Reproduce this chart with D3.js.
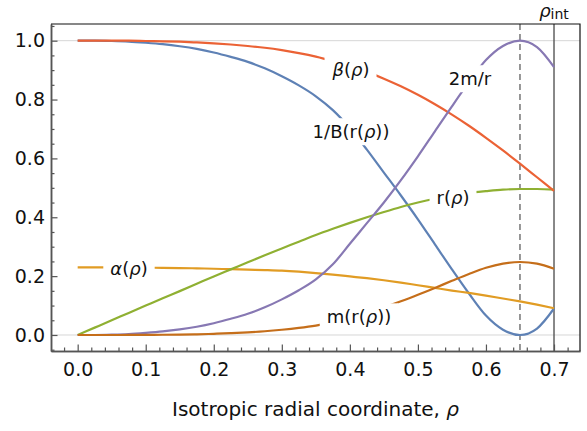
<!DOCTYPE html>
<html>
<head>
<meta charset="utf-8">
<script src="https://cdn.jsdelivr.net/npm/d3@7"></script>
<style>
  body { margin: 0; background: #fff; }
  text { font-family: "DejaVu Sans", sans-serif; }
</style>
</head>
<body>
<svg id="chart"></svg>
<script>
"use strict";

// isotropic radial coordinate samples
const rho = [0, 0.025, 0.05, 0.075, 0.1, 0.125, 0.15, 0.175, 0.2, 0.225, 0.25, 0.275,
  0.3, 0.325, 0.35, 0.375, 0.4, 0.425, 0.45, 0.475, 0.5, 0.525, 0.55, 0.575,
  0.6, 0.625, 0.65, 0.675, 0.7];

// curves
const invB = [1.000, 1.000, 0.999, 0.997, 0.993, 0.988, 0.981, 0.972, 0.960, 0.945, 0.928, 0.906,
  0.879, 0.848, 0.811, 0.764, 0.703, 0.630, 0.552, 0.474, 0.393, 0.308, 0.223, 0.141,
  0.066, 0.018, 0.000, 0.022, 0.090];
const alpha = [0.230, 0.230, 0.2298, 0.2295, 0.229, 0.228, 0.2275, 0.2265, 0.225, 0.2235, 0.222, 0.2205,
  0.2185, 0.215, 0.2105, 0.205, 0.199, 0.193, 0.186, 0.178, 0.169, 0.160, 0.151, 0.143,
  0.134, 0.124, 0.114, 0.103, 0.091];
const rOfRho = [0, 0.025, 0.05, 0.075, 0.1, 0.125, 0.149, 0.174, 0.199, 0.223, 0.247, 0.271,
  0.294, 0.317, 0.340, 0.361, 0.381, 0.400, 0.418, 0.435, 0.450, 0.463, 0.474, 0.483,
  0.489, 0.494, 0.496, 0.496, 0.494];
const beta = [1.000, 1.000, 1.000, 1.000, 0.999, 0.998, 0.9965, 0.994, 0.991, 0.987, 0.982, 0.976,
  0.968, 0.958, 0.946, 0.931, 0.914, 0.894, 0.871, 0.845, 0.816, 0.784, 0.749, 0.711,
  0.670, 0.627, 0.582, 0.536, 0.490];
const twoMr = [0, 0, 0.001, 0.003, 0.007, 0.012, 0.019, 0.028, 0.040, 0.055, 0.072, 0.094,
  0.121, 0.152, 0.189, 0.240, 0.310, 0.380, 0.450, 0.526, 0.607, 0.692, 0.777, 0.859,
  0.934, 0.982, 1.000, 0.978, 0.910];
const mass = [0, 0, 0, 0.0001, 0.0004, 0.0008, 0.0014, 0.0024, 0.004, 0.0061, 0.0089, 0.0127,
  0.0178, 0.0241, 0.0321, 0.043, 0.059, 0.076, 0.094, 0.1144, 0.1366, 0.160, 0.184, 0.2074,
  0.2284, 0.2426, 0.248, 0.2425, 0.2248];

const seriesNames = ["1/B(r(ρ))", "α(ρ)", "r(ρ)", "β(ρ)", "2m/r", "m(r(ρ))"];
const seriesValues = [invB, alpha, rOfRho, beta, twoMr, mass];
const seriesColors = ["#5E81B5", "#E19C24", "#8FB032", "#EB6235", "#8778B3", "#C56E1A"];

// where each callout label sits, in data units
const labelRho = [0.4017, 0.0754, 0.5516, 0.4017, 0.5766, 0.4134];
const labelVal = [0.690, 0.224, 0.4655, 0.900, 0.870, 0.061];

// ticks and reference lines
const xMajor = [0, 0.1, 0.2, 0.3, 0.4, 0.5, 0.6, 0.7];
const yMajor = [0, 0.2, 0.4, 0.6, 0.8, 1.0];
const gridY = [0, 1];
const rhoDashed = 0.65;
const rhoInt = 0.7;

const svgWidth = 587, svgHeight = 431;
const margin = { top: 24, right: 7, bottom: 80, left: 51 };
const width = svgWidth - margin.left - margin.right;
const height = svgHeight - margin.top - margin.bottom;

const root = d3.select("#chart")
  .attr("width", svgWidth)
  .attr("height", svgHeight);

const svg = root.append("g")
  .attr("transform", `translate(${margin.left},${margin.top})`);

const x = d3.scaleLinear().domain([-0.0392, 0.7382]).range([0, width]);
const y = d3.scaleLinear().domain([-0.0544, 1.0567]).range([height, 0]);

// gridlines at 0 and 1
svg.selectAll(".grid")
  .data(gridY)
  .enter()
  .append("line")
  .attr("x1", 0).attr("x2", width)
  .attr("y1", d => y(d)).attr("y2", d => y(d))
  .attr("stroke", "#d6d6d6")
  .attr("stroke-width", 1);

// vertical markers
svg.append("line")
  .attr("x1", x(rhoDashed)).attr("x2", x(rhoDashed))
  .attr("y1", 0).attr("y2", height)
  .attr("stroke", "#6b6b6b")
  .attr("stroke-width", 1.4)
  .attr("stroke-dasharray", "6,4");

svg.append("line")
  .attr("x1", x(rhoInt)).attr("x2", x(rhoInt))
  .attr("y1", 0).attr("y2", height)
  .attr("stroke", "#555")
  .attr("stroke-width", 1.4);

// curves
const line = d3.line()
  .x((d, i) => x(rho[i]))
  .y(d => y(d))
  .curve(d3.curveMonotoneX);

svg.selectAll(".curve")
  .data(seriesValues)
  .enter()
  .append("path")
  .attr("class", "curve")
  .attr("d", d => line(d))
  .attr("fill", "none")
  .attr("stroke", (d, i) => seriesColors[i])
  .attr("stroke-width", 2.2);

// inline labels: white patch cuts the curve, greek letters italic
function addRichText(sel, str) {
  str.split(/([αβρ])/).filter(s => s.length).forEach(part => {
    const t = sel.append("tspan").text(part);
    if (/[αβρ]/.test(part)) t.attr("font-style", "italic");
  });
}

seriesNames.forEach((name, i) => {
  const g = svg.append("g");
  const bg = g.append("rect").attr("fill", "#fff");
  const t = g.append("text")
    .attr("x", x(labelRho[i]))
    .attr("y", y(labelVal[i]))
    .attr("dy", "0.35em")
    .attr("text-anchor", "middle")
    .attr("font-size", "18px")
    .attr("fill", "#111");
  addRichText(t, name);
  const b = t.node().getBBox();
  bg.attr("x", b.x - 7).attr("y", b.y - 3)
    .attr("width", b.width + 14).attr("height", b.height + 6);
});

// axes (ticks point inward, minor ticks unlabeled)
const xAxis = d3.axisBottom(x)
  .tickValues(xMajor)
  .tickSizeInner(-6.5)
  .tickSizeOuter(0)
  .tickPadding(12)
  .tickFormat(d3.format(".1f"));

const xMinor = d3.axisBottom(x)
  .tickValues(d3.range(-0.02, 0.73, 0.02).filter(v => Math.abs(v * 10 - Math.round(v * 10)) > 1e-6))
  .tickSizeInner(-3.5)
  .tickSizeOuter(0)
  .tickFormat("");

const yAxis = d3.axisLeft(y)
  .tickValues(yMajor)
  .tickSizeInner(-6.5)
  .tickSizeOuter(0)
  .tickPadding(6)
  .tickFormat(d3.format(".1f"));

const yMinor = d3.axisLeft(y)
  .tickValues([-0.05, 0.05, 0.1, 0.15, 0.25, 0.3, 0.35, 0.45, 0.5, 0.55, 0.65, 0.7, 0.75, 0.85, 0.9, 0.95, 1.05])
  .tickSizeInner(-3.5)
  .tickSizeOuter(0)
  .tickFormat("");

function styleAxis(g) {
  g.select(".domain").attr("stroke", "#555").attr("stroke-width", 1.5);
  g.selectAll(".tick line").attr("stroke", "#555").attr("stroke-width", 1.2);
  g.selectAll(".tick text")
    .attr("font-family", "DejaVu Sans, sans-serif")
    .attr("font-size", "19px")
    .attr("fill", "#111");
}

svg.append("g").attr("transform", `translate(0,${height})`).call(xMinor).call(styleAxis);
svg.append("g").attr("transform", `translate(0,${height})`).call(xAxis).call(styleAxis);
svg.append("g").call(yMinor).call(styleAxis);
svg.append("g").call(yAxis).call(styleAxis);

// top and right frame
svg.append("path")
  .attr("d", `M0,0H${width}V${height}`)
  .attr("fill", "none")
  .attr("stroke", "#111")
  .attr("stroke-width", 1.2);

// rho_int marker label
const ri = svg.append("text")
  .attr("x", x(rhoInt))
  .attr("y", -7)
  .attr("text-anchor", "middle")
  .attr("font-size", "18px")
  .attr("fill", "#111");
ri.append("tspan").attr("font-style", "italic").text("ρ");
ri.append("tspan").attr("font-size", "14px").attr("dy", "2").text("int");

// axis title
const xt = svg.append("text")
  .attr("x", width / 2)
  .attr("y", height + 65)
  .attr("text-anchor", "middle")
  .attr("font-size", "20px")
  .attr("fill", "#111");
xt.append("tspan").text("Isotropic radial coordinate, ");
xt.append("tspan").attr("font-style", "italic").text("ρ");
</script>
</body>
</html>
